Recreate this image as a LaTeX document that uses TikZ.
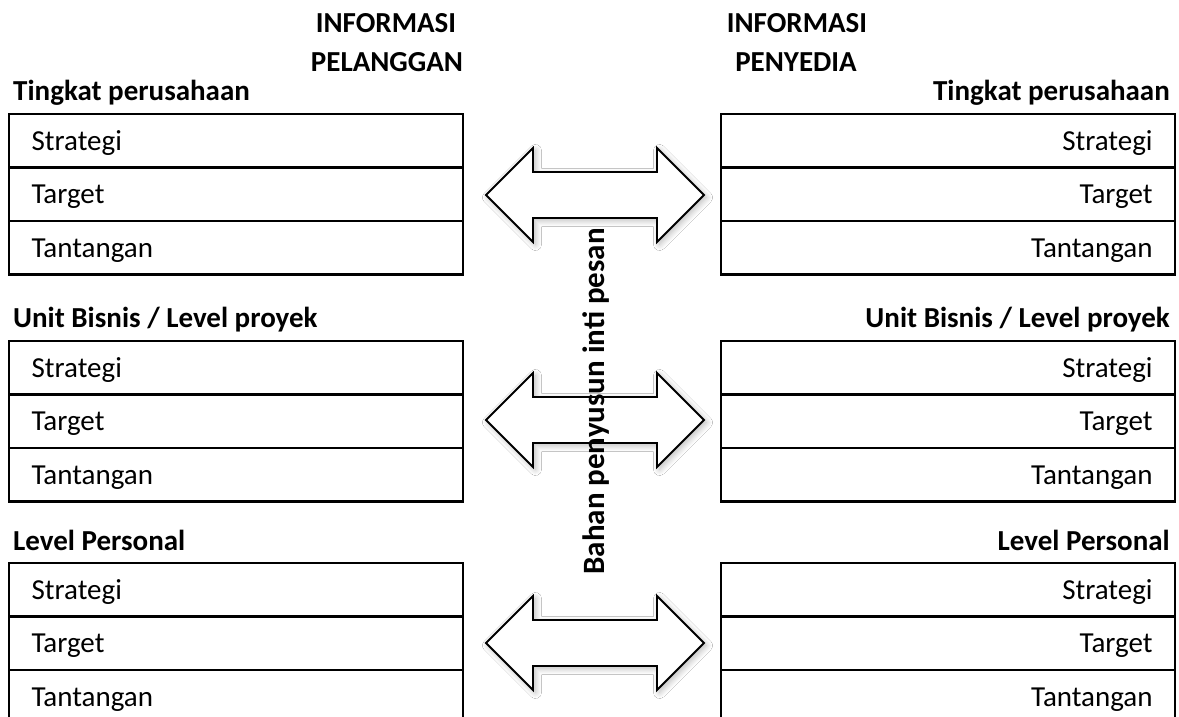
\documentclass[tikz,border=0pt]{standalone}
\usepackage{fontspec}
\setmainfont{Carlito}
\usetikzlibrary{shadows.blur,fit}

\newcommand{\basefont}{\fontsize{29}{35}\selectfont}

\tikzset{
  rowbase/.style={draw=black, line width=1.2pt, minimum width=453pt, minimum height=52.33pt,
    inner xsep=22pt, inner ysep=0pt, text width=409pt, text height=18.7pt, text depth=0pt,
    anchor=north west, font=\basefont},
  rowL/.style={rowbase, align=left},
  rowR/.style={rowbase, align=right},
  frame/.style={draw=black, line width=2.3pt, inner sep=0pt},
  lvlL/.style={anchor=base west, inner sep=0pt, font=\basefont\bfseries},
  lvlR/.style={anchor=base east, inner sep=0pt, font=\basefont\bfseries},
  head/.style={anchor=base, inner sep=0pt, font=\basefont\bfseries},
  dblarrow/.style={draw=black, line width=1.8pt, fill=white, line join=miter,
    blur shadow={shadow xshift=2.5pt, shadow yshift=-2.5pt, shadow blur radius=6pt,
      shadow blur steps=12, shadow opacity=28}},
}

% one three-row column block: #1 name, #2 top-left corner, #3 row style
\newcommand{\infoblock}[3]{%
  \node[#3] (#1a) at (#2) {Strategi};
  \node[#3] (#1b) at (#1a.south west) {Target};
  \node[#3] (#1c) at (#1b.south west) {Tantangan};
  \node[frame, fit=(#1a)(#1b)(#1c)] (#1) {};
}

% double-headed block arrow centred at (#1,#2)
\newcommand{\twoway}[2]{%
  \draw[dblarrow] (#1,#2) ++(-109,0) -- ++(47,-47) -- ++(0,24) -- ++(124,0)
    -- ++(0,-24) -- ++(47,47) -- ++(-47,47) -- ++(0,-24) -- ++(-124,0)
    -- ++(0,24) -- cycle;
}

\begin{document}
\begin{tikzpicture}[x=1pt, y=-1pt, font=\basefont]
  \path[use as bounding box, fill=white] (0,0) rectangle (1179,717);

  % column headings
  \node[head] (hL1) at (386,33) {INFORMASI};
  \node[head] (hL2) at (387,72) {PELANGGAN};
  \node[head] (hR1) at (797,33) {INFORMASI};
  \node[head] (hR2) at (796,72) {PENYEDIA};

  % level captions
  \node[lvlL] (capL1) at (13,100) {Tingkat perusahaan};
  \node[lvlL] (capL2) at (13,327) {Unit Bisnis / Level proyek};
  \node[lvlL] (capL3) at (13,550) {Level Personal};
  \node[lvlR] (capR1) at (1170,100) {Tingkat perusahaan};
  \node[lvlR] (capR2) at (1170,327) {Unit Bisnis / Level proyek};
  \node[lvlR] (capR3) at (1170,550) {Level Personal};

  % customer side
  \infoblock{L1}{9,114}{rowL}
  \infoblock{L2}{9,341}{rowL}
  \infoblock{L3}{9,563}{rowL}
  % provider side
  \infoblock{R1}{721,114}{rowR}
  \infoblock{R2}{721,341}{rowR}
  \infoblock{R3}{721,563}{rowR}

  % exchange arrows
  \twoway{595}{195}
  \twoway{595}{420}
  \twoway{595}{643}

  % central vertical caption
  \node[rotate=90, anchor=base, inner sep=0pt, font=\bfseries\fontsize{31}{37}\selectfont]
    (core) at (604,401.5) {Bahan penyusun inti pesan};
\end{tikzpicture}
\end{document}
